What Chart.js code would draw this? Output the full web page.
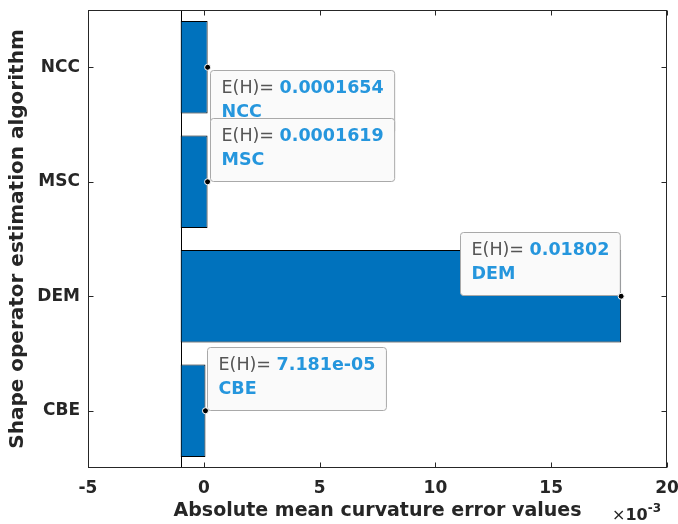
<!DOCTYPE html>
<html><head><meta charset="utf-8">
<script src="https://cdn.jsdelivr.net/npm/chart.js@4/dist/chart.umd.min.js"></script>
<style>html,body{margin:0;padding:0;background:#fff}canvas{display:block}</style>
</head><body>
<canvas id="c" width="678" height="524"></canvas>
<script>
// ---- data ----
const categories = ['NCC', 'MSC', 'DEM', 'CBE'];
const errorValues = [0.0001654, 0.0001619, 0.01802, 0.00007181];
const barBaseValue = -0.001;
const axisExponent = -3;
const xTickValues = [-5, 0, 5, 10, 15, 20];
const tipPrefix = 'E(H)= ';

const unit = Math.pow(10, axisExponent);
const barData = errorValues.map(v => [barBaseValue / unit, v / unit]);

function matlabFormat(v) {
  if (Math.abs(v) < 1e-4) {
    return v.toExponential(3).replace(/e([+-])(\d)$/, 'e$10$2');
  }
  return String(Number(v.toPrecision(4)));
}

const FONT = "'DejaVu Sans', sans-serif";
const AX = '#262626';

const matlabPlugin = {
  id: 'matlab',
  beforeDatasetsDraw(chart) {
    const {ctx, chartArea: a, scales: {x}} = chart;
    const bx = Math.round(x.getPixelForValue(barBaseValue / unit)) + 0.5;
    ctx.save();
    ctx.strokeStyle = '#000';
    ctx.lineWidth = 1;
    ctx.beginPath();
    ctx.moveTo(bx, a.top);
    ctx.lineTo(bx, a.bottom);
    ctx.stroke();
    ctx.restore();
  },
  afterDraw(chart, args, opts) {
    const {ctx, chartArea: a, scales: {x, y}} = chart;
    ctx.save();
    ctx.strokeStyle = AX;
    ctx.lineWidth = 1;
    const L = Math.round(a.left) + 0.5, R = Math.round(a.right) - 0.5;
    const T = Math.round(a.top) + 0.5, B = Math.round(a.bottom) - 0.5;
    ctx.strokeRect(L, T, R - L, B - T);
    const tl = 5;
    ctx.beginPath();
    x.ticks.forEach(t => {
      const px = Math.round(x.getPixelForValue(t.value)) + 0.5;
      ctx.moveTo(px, B); ctx.lineTo(px, B - tl);
      ctx.moveTo(px, T); ctx.lineTo(px, T + tl);
    });
    categories.forEach((c, i) => {
      const py = Math.round(y.getPixelForValue(i)) + 0.5;
      ctx.moveTo(L, py); ctx.lineTo(L + tl, py);
      ctx.moveTo(R, py); ctx.lineTo(R - tl, py);
    });
    ctx.stroke();
    ctx.fillStyle = AX;
    ctx.textBaseline = 'alphabetic';
    ctx.textAlign = 'left';
    ctx.font = '16px ' + FONT;
    ctx.fillText('\u00d7', 612, 520);
    const wx = ctx.measureText('\u00d7').width;
    ctx.font = 'bold 16px ' + FONT;
    ctx.fillText('10', 612 + wx, 520);
    const w10 = ctx.measureText('10').width;
    ctx.font = 'bold 12px ' + FONT;
    ctx.fillText(String(axisExponent), 612 + wx + w10, 512);

    categories.forEach((c, i) => {
      const px = x.getPixelForValue(errorValues[i] / unit);
      const py = y.getPixelForValue(i);
      drawTip(ctx, px, py, matlabFormat(errorValues[i]), c, opts.placement[c]);
    });
    ctx.restore();
  }
};

function drawTip(ctx, px, py, valStr, label, placement) {
  const fs = 17.5;
  ctx.font = fs + 'px ' + FONT;
  const w1 = ctx.measureText(tipPrefix).width;
  ctx.font = 'bold ' + fs + 'px ' + FONT;
  const w2 = ctx.measureText(valStr).width;
  const w3 = ctx.measureText(label).width;
  const padX = 11, h = 63;
  const w = Math.max(w1 + w2, w3) + 2 * padX;
  const right = placement.indexOf('right') >= 0;
  const above = placement.indexOf('above') >= 0;
  const bx = Math.round(right ? px + 2 : px - w - 1) + 0.5;
  const by = Math.round(above ? py - h - 1 : py + 3) + 0.5;
  ctx.beginPath();
  ctx.roundRect(bx, by, w, h, 3);
  ctx.fillStyle = '#fafafa';
  ctx.fill();
  ctx.strokeStyle = '#a9a9a9';
  ctx.lineWidth = 1;
  ctx.stroke();
  ctx.textBaseline = 'middle';
  ctx.textAlign = 'left';
  ctx.font = fs + 'px ' + FONT;
  ctx.fillStyle = '#555555';
  ctx.fillText(tipPrefix, bx + padX, by + 18);
  ctx.font = 'bold ' + fs + 'px ' + FONT;
  ctx.fillStyle = '#2596dd';
  ctx.fillText(valStr, bx + padX + w1, by + 18);
  ctx.fillText(label, bx + padX, by + 42);
  ctx.beginPath();
  ctx.arc(px, py, 3, 0, Math.PI * 2);
  ctx.fillStyle = '#000';
  ctx.strokeStyle = '#fff';
  ctx.lineWidth = 1;
  ctx.fill();
  ctx.stroke();
}

new Chart(document.getElementById('c'), {
  type: 'bar',
  data: {
    labels: categories,
    datasets: [{
      data: barData,
      backgroundColor: '#0072BD',
      borderColor: '#000000',
      borderWidth: 1,
      borderSkipped: false,
      barPercentage: 0.81,
      categoryPercentage: 1.0
    }]
  },
  options: {
    indexAxis: 'y',
    responsive: false,
    animation: false,
    devicePixelRatio: 1,
    layout: {padding: {top: 10, right: 11, left: 0, bottom: 0}},
    plugins: {
      legend: {display: false},
      tooltip: {enabled: false},
      matlab: {placement: {NCC: 'below-right', MSC: 'above-right', DEM: 'above-left', CBE: 'above-right'}}
    },
    scales: {
      x: {
        type: 'linear',
        min: xTickValues[0],
        max: xTickValues[xTickValues.length - 1],
        afterBuildTicks: s => { s.ticks = xTickValues.map(v => ({value: v})); },
        grid: {display: false, drawTicks: false},
        border: {display: false},
        ticks: {color: AX, font: {family: FONT, size: 17, weight: 'bold'}, padding: 10, maxRotation: 0},
        title: {display: true, text: 'Absolute mean curvature error values', color: AX,
                font: {family: FONT, size: 19, weight: 'bold'}, padding: {top: 0, bottom: 2}},
        afterFit: s => { s.height = 56; s.paddingLeft = 0; s.paddingRight = 0; }
      },
      y: {
        type: 'category',
        grid: {display: false, drawTicks: false},
        border: {display: false},
        ticks: {color: AX, font: {family: FONT, size: 17, weight: 'bold'}, padding: 8},
        title: {display: true, text: 'Shape operator estimation algorithm', color: AX,
                font: {family: FONT, size: 20, weight: 'bold'}, padding: {top: 6, bottom: 0}},
        afterFit: s => { s.width = 88; s.paddingTop = 0; s.paddingBottom = 0; }
      }
    }
  },
  plugins: [matlabPlugin]
});
</script>
</body></html>
